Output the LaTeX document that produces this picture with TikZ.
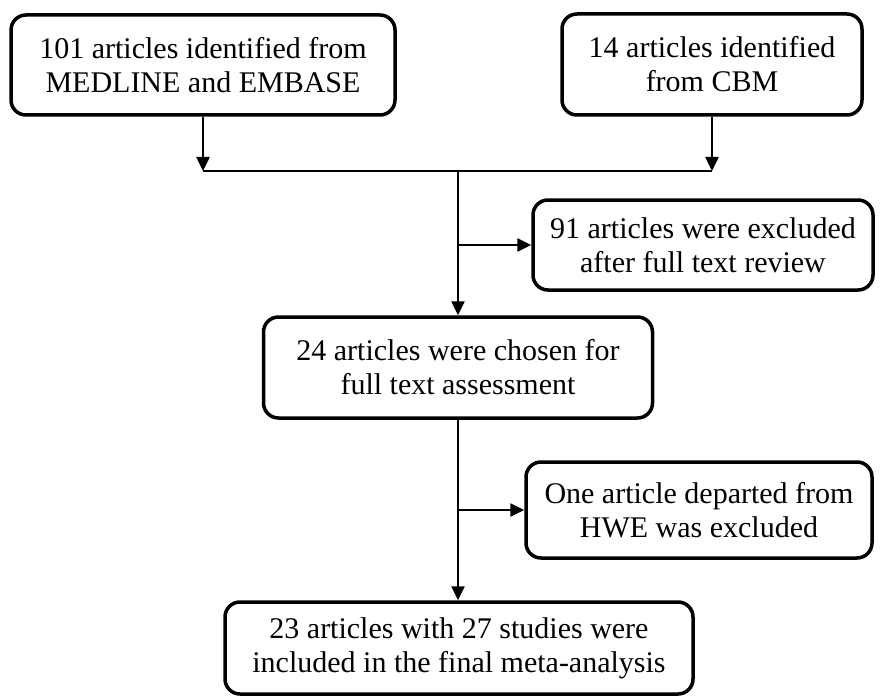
\documentclass[tikz,border=0pt]{standalone}
\usepackage{fontspec}
\setmainfont{Liberation Serif}
\usetikzlibrary{arrows.meta}
\begin{document}
\begin{tikzpicture}[x=1pt,y=-1pt,
  box/.style={draw=black, line width=3.5pt, rounded corners=15pt, align=center,
    inner sep=0pt, font=\fontsize{30}{34}\selectfont},
  conn/.style={draw=black, line width=2.5pt},
  arr/.style={conn, -{Triangle[length=14pt,width=13pt]}}]
\useasboundingbox (0,0) rectangle (881,698);
\node[box, minimum width=384pt, minimum height=100pt] (b1) at (203,65)
  {101 articles identified from\\MEDLINE and EMBASE};
\node[box, minimum width=300pt, minimum height=101pt] (b2) at (712,64.5)
  {14 articles identified\\from CBM};
\node[box, minimum width=340pt, minimum height=90pt] (b4) at (703,245)
  {91 articles were excluded\\after full text review};
\node[box, minimum width=389pt, minimum height=101pt] (b3) at (458,367.5)
  {24 articles were chosen for\\full text assessment};
\node[box, minimum width=346pt, minimum height=96pt] (b5) at (699,510)
  {One article departed from\\HWE was excluded};
\node[box, minimum width=468pt, minimum height=92pt] (b6) at (459,648)
  {23 articles with 27 studies were\\included in the final meta-analysis};
\coordinate (j) at (458,171);
\coordinate (jl) at (b1.south |- j);
\coordinate (jr) at (b2.south |- j);
\draw[arr] (b1.south) -- (jl);
\draw[arr] (b2.south) -- (jr);
\draw[conn] (jl) -- (jr);
\draw[arr] (j) -- (j |- b3.north);
\coordinate (k1) at (j |- b4.west);
\draw[arr] (k1) -- (b4.west);
\coordinate (s3) at (j |- b3.south);
\draw[arr] (s3) -- (s3 |- b6.north);
\coordinate (k2) at (j |- b5.west);
\draw[arr] (k2) -- (b5.west);
\end{tikzpicture}
\end{document}
